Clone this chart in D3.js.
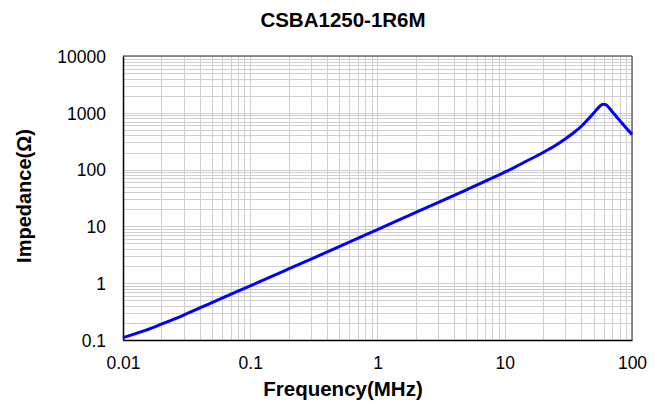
<!DOCTYPE html>
<html>
<head>
<meta charset="utf-8">
<script src="https://cdn.jsdelivr.net/npm/d3@7"></script>
<style>
  html, body { margin: 0; padding: 0; background: #fff; }
  text { font-family: "Liberation Sans", Arial, sans-serif; }
</style>
</head>
<body>
<svg id="chart" width="666" height="405"></svg>
<script>
// Data
const frequencyMHz = [0.01, 0.015, 0.02, 0.03, 0.05, 0.07, 0.1, 0.2, 0.5, 1, 2, 5, 10, 15, 20, 25, 30, 35, 40, 45, 50, 53, 56, 58, 60, 62, 64, 67, 70, 75, 80, 90, 100];
const impedanceOhm = [0.11, 0.148, 0.19, 0.275, 0.455, 0.635, 0.9, 1.78, 4.4, 8.8, 17.6, 44, 90, 143, 200, 265, 350, 450, 580, 760, 990, 1150, 1310, 1395, 1420, 1395, 1330, 1180, 1040, 870, 735, 540, 417];
const xTickValues = [0.01, 0.1, 1, 10, 100];
const xTickLabels = ["0.01", "0.1", "1", "10", "100"];
const yTickValues = [0.1, 1, 10, 100, 1000, 10000];
const yTickLabels = ["0.1", "1", "10", "100", "1000", "10000"];
const chartTitle = "CSBA1250-1R6M";
const xTitle = "Frequency(MHz)";
const yTitle = "Impedance(\u03A9)";

(function () {
const svg = d3.select("#chart");
const pL = 123, pR = 632, pT = 56, pB = 340;

const x = d3.scaleLog().domain([0.01, 100]).range([pL, pR]);
const y = d3.scaleLog().domain([0.1, 10000]).range([pB, pT]);

// minor + major grid values
const gridX = [];
for (let e = -2; e < 2; e++) for (let m = 1; m <= 9; m++) gridX.push(m * Math.pow(10, e));
gridX.push(100);
const gridY = [];
for (let e = -1; e < 4; e++) for (let m = 1; m <= 9; m++) gridY.push(m * Math.pow(10, e));
gridY.push(10000);

const grid = svg.append("g");
grid.selectAll("line.gx").data(gridX).join("line")
  .attr("x1", d => Math.round(x(d)) + 0.5).attr("x2", d => Math.round(x(d)) + 0.5)
  .attr("y1", pT).attr("y2", pB)
  .attr("stroke", "#cfcfcf").attr("stroke-width", 1);
grid.selectAll("line.gy").data(gridY).join("line")
  .attr("y1", d => Math.round(y(d)) + 0.5).attr("y2", d => Math.round(y(d)) + 0.5)
  .attr("x1", pL).attr("x2", pR)
  .attr("stroke", "#cfcfcf").attr("stroke-width", 1);

// frame: top/right gray, left/bottom black
svg.append("line").attr("x1", pL).attr("x2", pR).attr("y1", pT).attr("y2", pT)
  .attr("stroke", "#6a6a6a").attr("stroke-width", 1.5);
svg.append("line").attr("x1", pR).attr("x2", pR).attr("y1", pT).attr("y2", pB)
  .attr("stroke", "#6a6a6a").attr("stroke-width", 1.5);

// axes (no tick marks, labels only)
const xAxis = d3.axisBottom(x).tickValues(xTickValues)
  .tickFormat((d, i) => xTickLabels[i]).tickSize(0).tickPadding(0);
const gx = svg.append("g").attr("transform", `translate(0,${pB})`).call(xAxis);
gx.select(".domain").attr("stroke", "#000").attr("stroke-width", 1.5);
gx.selectAll("text").attr("font-size", 17.5).attr("fill", "#000")
  .attr("dy", null).attr("y", 29);

const yAxis = d3.axisLeft(y).tickValues(yTickValues)
  .tickFormat((d, i) => yTickLabels[i]).tickSize(0).tickPadding(17);
const gy = svg.append("g").attr("transform", `translate(${pL},0)`).call(yAxis);
gy.select(".domain").attr("stroke", "#000").attr("stroke-width", 1.5);
gy.selectAll("text").attr("font-size", 17.5).attr("fill", "#000").attr("dy", "0.36em");
svg.selectAll(".domain").attr("fill", "none");
svg.selectAll(".tick text").attr("font-family", "'Liberation Sans', Arial, sans-serif");

// curve
const line = d3.line()
  .x((d, i) => x(frequencyMHz[i]))
  .y(d => y(d))
  .curve(d3.curveCatmullRom.alpha(0.5));
svg.append("path").datum(impedanceOhm)
  .attr("d", line)
  .attr("fill", "none")
  .attr("stroke", "#0000ff")
  .attr("stroke-width", 3)
  .attr("stroke-linejoin", "round");

// titles
svg.append("text").attr("x", 343).attr("y", 27).attr("text-anchor", "middle")
  .attr("font-size", 20.5).attr("font-weight", "bold").text(chartTitle);
svg.append("text").attr("x", 343).attr("y", 396).attr("text-anchor", "middle")
  .attr("font-size", 20.5).attr("font-weight", "bold").text(xTitle);
svg.append("text").attr("transform", "translate(31,196) rotate(-90)").attr("text-anchor", "middle")
  .attr("font-size", 20).attr("font-weight", "bold").text(yTitle);
})();
</script>
</body>
</html>
